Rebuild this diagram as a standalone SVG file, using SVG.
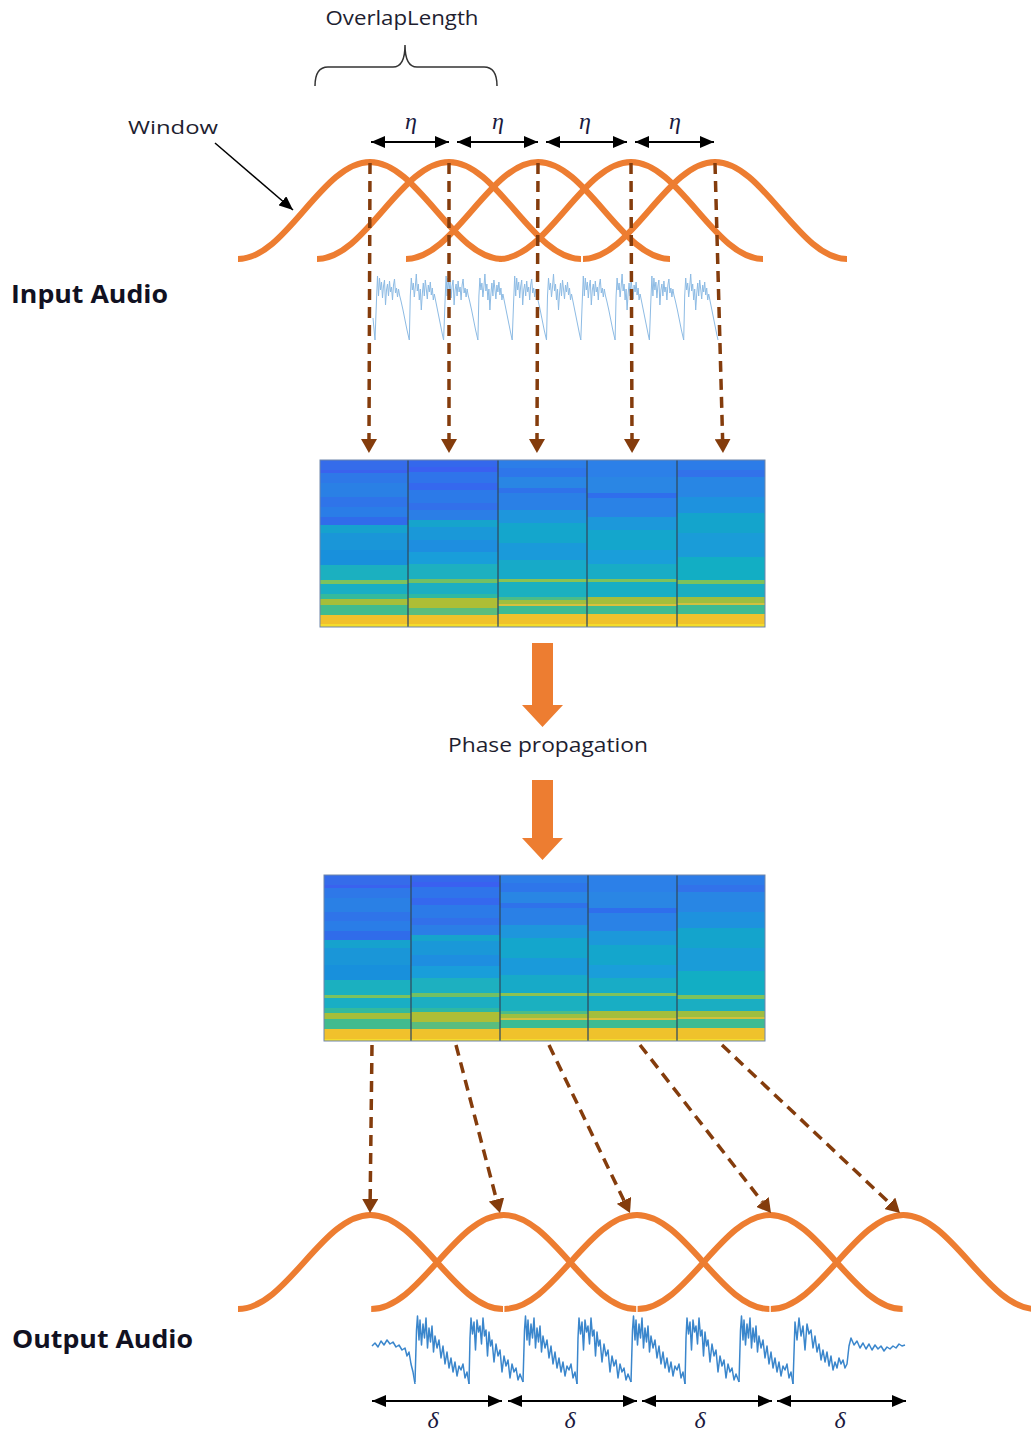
<svg xmlns="http://www.w3.org/2000/svg" width="1031" height="1431" viewBox="0 0 1031 1431">
<style>
.lbl{font-family:"Open Sans","Noto Sans","Liberation Sans",sans-serif;fill:#1e1e30}
.big{font-family:"Open Sans","Noto Sans","Liberation Sans",sans-serif;font-weight:bold;fill:#111122}
.greek{font-family:"Liberation Serif","DejaVu Serif",serif;font-style:italic;fill:#1a1a40}
.win{fill:none;stroke:#ED7D31;stroke-width:6}
.dash{fill:none;stroke:#843C0C;stroke-width:3.5;stroke-dasharray:11 7}
.dbl{fill:none;stroke:#000;stroke-width:2}
.div{stroke:#2F4A5E;stroke-width:1.5;stroke-opacity:0.85}
.orange{fill:#ED7D31}
.wavein{fill:none;stroke:#8DBBE4;stroke-width:1;stroke-linejoin:round}
.waveout{fill:none;stroke:#3A86CC;stroke-width:1.5;stroke-linejoin:round}
</style>
<defs>
<marker id="brownHead" markerUnits="userSpaceOnUse" markerWidth="14" markerHeight="16" refX="0" refY="8" orient="auto" viewBox="0 0 14 16"><path d="M0,0 L14,8 L0,16 Z" fill="#843C0C"/></marker>
<marker id="blk" markerUnits="userSpaceOnUse" markerWidth="14" markerHeight="12" refX="14" refY="6" orient="auto-start-reverse" viewBox="0 0 14 12"><path d="M0,0 L14,6 L0,12 Z" fill="#000"/></marker>
<marker id="blkS" markerUnits="userSpaceOnUse" markerWidth="14" markerHeight="12" refX="14" refY="6" orient="auto" viewBox="0 0 14 12"><path d="M0,0 L14,6 L0,12 Z" fill="#000"/></marker>
<linearGradient id="g1" x1="0" y1="0" x2="0" y2="1">
<stop offset="0" stop-color="#356CEA"/><stop offset=".06" stop-color="#356CEA"/>
<stop offset=".06" stop-color="#3A62EE"/><stop offset=".08" stop-color="#3A62EE"/>
<stop offset=".08" stop-color="#2E78E8"/><stop offset=".14" stop-color="#2E78E8"/>
<stop offset=".14" stop-color="#2A80E5"/><stop offset=".22" stop-color="#2A80E5"/>
<stop offset=".22" stop-color="#2F74E9"/><stop offset=".28" stop-color="#2F74E9"/>
<stop offset=".28" stop-color="#2A7DE7"/><stop offset=".34" stop-color="#2A7DE7"/>
<stop offset=".34" stop-color="#306CEA"/><stop offset=".39" stop-color="#306CEA"/>
<stop offset=".39" stop-color="#16A2CE"/><stop offset=".44" stop-color="#16A2CE"/>
<stop offset=".44" stop-color="#1A96D8"/><stop offset=".54" stop-color="#1A96D8"/>
<stop offset=".54" stop-color="#1890DC"/><stop offset=".63" stop-color="#1890DC"/>
<stop offset=".63" stop-color="#1BB0C0"/><stop offset=".72" stop-color="#1BB0C0"/>
<stop offset=".72" stop-color="#7DC25E"/><stop offset=".74" stop-color="#7DC25E"/>
<stop offset=".74" stop-color="#19AEC4"/><stop offset=".80" stop-color="#19AEC4"/>
<stop offset=".80" stop-color="#34BA9C"/><stop offset=".83" stop-color="#34BA9C"/>
<stop offset=".83" stop-color="#A6BE3A"/><stop offset=".87" stop-color="#A6BE3A"/>
<stop offset=".87" stop-color="#41BB8E"/><stop offset=".93" stop-color="#41BB8E"/>
<stop offset=".93" stop-color="#F1C12C"/><stop offset=".985" stop-color="#F1C12C"/>
<stop offset=".985" stop-color="#F4DC2C"/><stop offset="1" stop-color="#F4DC2C"/>
</linearGradient>
<linearGradient id="g2" x1="0" y1="0" x2="0" y2="1">
<stop offset="0" stop-color="#3468EC"/><stop offset=".04" stop-color="#3468EC"/>
<stop offset=".04" stop-color="#3A60F0"/><stop offset=".07" stop-color="#3A60F0"/>
<stop offset=".07" stop-color="#2F74EA"/><stop offset=".14" stop-color="#2F74EA"/>
<stop offset=".14" stop-color="#3568EE"/><stop offset=".18" stop-color="#3568EE"/>
<stop offset=".18" stop-color="#2C7AE8"/><stop offset=".26" stop-color="#2C7AE8"/>
<stop offset=".26" stop-color="#3270EA"/><stop offset=".30" stop-color="#3270EA"/>
<stop offset=".30" stop-color="#2B7EE6"/><stop offset=".36" stop-color="#2B7EE6"/>
<stop offset=".36" stop-color="#16A4CC"/><stop offset=".40" stop-color="#16A4CC"/>
<stop offset=".40" stop-color="#1A98D8"/><stop offset=".48" stop-color="#1A98D8"/>
<stop offset=".48" stop-color="#1E8EE0"/><stop offset=".55" stop-color="#1E8EE0"/>
<stop offset=".55" stop-color="#199EDA"/><stop offset=".62" stop-color="#199EDA"/>
<stop offset=".62" stop-color="#1DB0C0"/><stop offset=".71" stop-color="#1DB0C0"/>
<stop offset=".71" stop-color="#72C064"/><stop offset=".735" stop-color="#72C064"/>
<stop offset=".735" stop-color="#1CAEC2"/><stop offset=".80" stop-color="#1CAEC2"/>
<stop offset=".80" stop-color="#2FB8A2"/><stop offset=".825" stop-color="#2FB8A2"/>
<stop offset=".825" stop-color="#AEBE36"/><stop offset=".885" stop-color="#AEBE36"/>
<stop offset=".885" stop-color="#5ABD7E"/><stop offset=".93" stop-color="#5ABD7E"/>
<stop offset=".93" stop-color="#EFC22C"/><stop offset=".985" stop-color="#EFC22C"/>
<stop offset=".985" stop-color="#F4DC2C"/><stop offset="1" stop-color="#F4DC2C"/>
</linearGradient>
<linearGradient id="g3" x1="0" y1="0" x2="0" y2="1">
<stop offset="0" stop-color="#2C7EE8"/><stop offset=".05" stop-color="#2C7EE8"/>
<stop offset=".05" stop-color="#2E76EA"/><stop offset=".10" stop-color="#2E76EA"/>
<stop offset=".10" stop-color="#2986E4"/><stop offset=".17" stop-color="#2986E4"/>
<stop offset=".17" stop-color="#2F72EA"/><stop offset=".20" stop-color="#2F72EA"/>
<stop offset=".20" stop-color="#2A80E6"/><stop offset=".30" stop-color="#2A80E6"/>
<stop offset=".30" stop-color="#1E96DC"/><stop offset=".38" stop-color="#1E96DC"/>
<stop offset=".38" stop-color="#14A6CC"/><stop offset=".50" stop-color="#14A6CC"/>
<stop offset=".50" stop-color="#1A9ADA"/><stop offset=".60" stop-color="#1A9ADA"/>
<stop offset=".60" stop-color="#17AAC8"/><stop offset=".71" stop-color="#17AAC8"/>
<stop offset=".71" stop-color="#8CC252"/><stop offset=".73" stop-color="#8CC252"/>
<stop offset=".73" stop-color="#1BB0C0"/><stop offset=".82" stop-color="#1BB0C0"/>
<stop offset=".82" stop-color="#4CBC88"/><stop offset=".84" stop-color="#4CBC88"/>
<stop offset=".84" stop-color="#9EBF40"/><stop offset=".86" stop-color="#9EBF40"/>
<stop offset=".86" stop-color="#D6C03E"/><stop offset=".875" stop-color="#D6C03E"/>
<stop offset=".875" stop-color="#3CBB94"/><stop offset=".92" stop-color="#3CBB94"/>
<stop offset=".92" stop-color="#F0C22C"/><stop offset=".985" stop-color="#F0C22C"/>
<stop offset=".985" stop-color="#F4DC2C"/><stop offset="1" stop-color="#F4DC2C"/>
</linearGradient>
<linearGradient id="g4" x1="0" y1="0" x2="0" y2="1">
<stop offset="0" stop-color="#2C80E8"/><stop offset=".10" stop-color="#2C80E8"/>
<stop offset=".10" stop-color="#2A86E4"/><stop offset=".20" stop-color="#2A86E4"/>
<stop offset=".20" stop-color="#2F6EEC"/><stop offset=".23" stop-color="#2F6EEC"/>
<stop offset=".23" stop-color="#2A82E6"/><stop offset=".34" stop-color="#2A82E6"/>
<stop offset=".34" stop-color="#1C98DA"/><stop offset=".42" stop-color="#1C98DA"/>
<stop offset=".42" stop-color="#14A6CC"/><stop offset=".54" stop-color="#14A6CC"/>
<stop offset=".54" stop-color="#1A9EDA"/><stop offset=".62" stop-color="#1A9EDA"/>
<stop offset=".62" stop-color="#18ACC6"/><stop offset=".71" stop-color="#18ACC6"/>
<stop offset=".71" stop-color="#7EC25C"/><stop offset=".73" stop-color="#7EC25C"/>
<stop offset=".73" stop-color="#18AEC4"/><stop offset=".82" stop-color="#18AEC4"/>
<stop offset=".82" stop-color="#A4BE3C"/><stop offset=".86" stop-color="#A4BE3C"/>
<stop offset=".86" stop-color="#DAC03C"/><stop offset=".875" stop-color="#DAC03C"/>
<stop offset=".875" stop-color="#3EBB92"/><stop offset=".92" stop-color="#3EBB92"/>
<stop offset=".92" stop-color="#EFC22C"/><stop offset=".985" stop-color="#EFC22C"/>
<stop offset=".985" stop-color="#F4DC2C"/><stop offset="1" stop-color="#F4DC2C"/>
</linearGradient>
<linearGradient id="g5" x1="0" y1="0" x2="0" y2="1">
<stop offset="0" stop-color="#2C7CE8"/><stop offset=".06" stop-color="#2C7CE8"/>
<stop offset=".06" stop-color="#3272EA"/><stop offset=".10" stop-color="#3272EA"/>
<stop offset=".10" stop-color="#2886E4"/><stop offset=".22" stop-color="#2886E4"/>
<stop offset=".22" stop-color="#1E92DE"/><stop offset=".32" stop-color="#1E92DE"/>
<stop offset=".32" stop-color="#14A4CC"/><stop offset=".44" stop-color="#14A4CC"/>
<stop offset=".44" stop-color="#1A9CD8"/><stop offset=".58" stop-color="#1A9CD8"/>
<stop offset=".58" stop-color="#12AEC4"/><stop offset=".72" stop-color="#12AEC4"/>
<stop offset=".72" stop-color="#7CC25C"/><stop offset=".745" stop-color="#7CC25C"/>
<stop offset=".745" stop-color="#1AAEC2"/><stop offset=".82" stop-color="#1AAEC2"/>
<stop offset=".82" stop-color="#9EBE40"/><stop offset=".855" stop-color="#9EBE40"/>
<stop offset=".855" stop-color="#D2C03E"/><stop offset=".87" stop-color="#D2C03E"/>
<stop offset=".87" stop-color="#3EBB92"/><stop offset=".92" stop-color="#3EBB92"/>
<stop offset=".92" stop-color="#EFC22C"/><stop offset=".985" stop-color="#EFC22C"/>
<stop offset=".985" stop-color="#F4DC2C"/><stop offset="1" stop-color="#F4DC2C"/>
</linearGradient>
<path id="inA" class="wavein" d="M0,340 L1.5,300 L2.5,276 L3.5,296 L4.5,278 L5.5,290 L6.5,282 L7.5,298 L8.5,286 L9.5,280 L10.5,305 L11.5,290 L12.5,284 L13.5,296 L14.5,281 L15.5,292 L16.5,287 L17.5,300 L18.5,285 L19.5,279 L20.5,293 L21.5,288 L22.5,297 L23.5,289 L24.5,295 L26,301 L28,310 L30,320 L32,330 L34.3,340"/>
<path id="inB" class="wavein" d="M0,340 L1,296 L2,278 L3,290 L4,283 L5,297 L6,287 L7,274 L8,291 L9,284 L10,300 L11,289 L12,310 L13,294 L14,283 L15,296 L16,280 L17,289 L18,299 L19,285 L20,292 L21,282 L22,295 L23,288 L24,300 L25,294 L27,304 L29,314 L31,324 L33,334 L34.3,340"/>
<path id="outP" class="waveout" d="M0,1382 L1.5,1330 L2.5,1316 L4,1340 L5,1320 L6.5,1345 L8,1324 L9.5,1338 L11,1318 L12.5,1348 L14,1328 L15.5,1342 L17,1326 L18.5,1352 L20,1336 L22,1348 L24,1340 L26,1358 L28,1346 L30,1364 L32,1352 L34,1368 L36,1358 L38,1372 L40,1362 L42,1376 L44,1366 L46,1370 L48,1364 L50,1378 L52,1372 L54,1384"/>
<path id="outQ" class="waveout" d="M0,1384 L1,1338 L2,1318 L3.5,1334 L5,1322 L6.5,1350 L8,1320 L9.5,1332 L11,1326 L12.5,1344 L14,1318 L15.5,1336 L17,1330 L18.5,1356 L20,1332 L21.5,1346 L23,1340 L25,1362 L27,1344 L29,1356 L31,1350 L33,1372 L35,1356 L37,1366 L39,1360 L41,1378 L43,1364 L45,1372 L47,1368 L49,1380 L51,1374 L54,1382"/>
</defs>

<rect width="1031" height="1431" fill="#ffffff"/>

<g id="overlap-length">
<text class="lbl" x="402" y="25" font-size="20" text-anchor="middle" textLength="153" lengthAdjust="spacingAndGlyphs">OverlapLength</text>
<path d="M315,86 Q315,67 328,67 L393,67 Q405,67 405,45 Q405,67 417,67 L484,67 Q497,67 497,86" fill="none" stroke="#333" stroke-width="1.5"/>
</g>

<g id="window-label">
<text class="lbl" x="173" y="134" font-size="19" text-anchor="middle" textLength="90" lengthAdjust="spacingAndGlyphs">Window</text>
</g>

<g id="input-windows">
<path class="win" d="M238,259 C286,259 322,162 370,162 C418,162 454,259 502,259"/>
<path class="win" d="M317,259 C365,259 401,162 449,162 C497,162 533,259 581,259"/>
<path class="win" d="M406,259 C454,259 490,162 538,162 C586,162 622,259 670,259"/>
<path class="win" d="M499,259 C547,259 583,162 631,162 C679,162 715,259 763,259"/>
<path class="win" d="M583,259 C631,259 667,162 715,162 C763,162 799,259 847,259"/>
</g>

<g id="input-audio">
<text class="big" x="11" y="303" font-size="25" textLength="157" lengthAdjust="spacingAndGlyphs">Input Audio</text>
<path class="wavein" d="M373,318 L375,340"/>
<use href="#inA" x="375"/>
<use href="#inB" x="409.3"/>
<use href="#inA" x="443.6"/>
<use href="#inB" x="477.9"/>
<use href="#inA" x="512.2"/>
<use href="#inB" x="546.5"/>
<use href="#inA" x="580.8"/>
<use href="#inB" x="615.1"/>
<use href="#inA" x="649.4"/>
<use href="#inB" x="683.7"/>
</g>

<g id="spectrogram-in">
<rect x="320" y="460" width="88" height="167" fill="url(#g1)"/>
<rect x="408" y="460" width="90" height="167" fill="url(#g2)"/>
<rect x="498" y="460" width="89" height="167" fill="url(#g3)"/>
<rect x="587" y="460" width="90" height="167" fill="url(#g4)"/>
<rect x="677" y="460" width="88" height="167" fill="url(#g5)"/>
<line class="div" x1="408" y1="460" x2="408" y2="627"/>
<line class="div" x1="498" y1="460" x2="498" y2="627"/>
<line class="div" x1="587" y1="460" x2="587" y2="627"/>
<line class="div" x1="677" y1="460" x2="677" y2="627"/>
<rect x="320" y="460" width="445" height="167" fill="none" stroke="#6F86AA" stroke-width="1"/>
</g>

<g id="phase-propagation">
<path class="orange" d="M532,643 L553,643 L553,705 L563,705 L542.5,727 L522,705 L532,705 Z"/>
<text class="lbl" x="548" y="752" font-size="20" text-anchor="middle" textLength="200" lengthAdjust="spacingAndGlyphs">Phase propagation</text>
<path class="orange" d="M532,780 L553,780 L553,838 L563,838 L542.5,860 L522,838 L532,838 Z"/>
</g>

<g id="spectrogram-out">
<rect x="324" y="875" width="87" height="166" fill="url(#g1)"/>
<rect x="411" y="875" width="89" height="166" fill="url(#g2)"/>
<rect x="500" y="875" width="88" height="166" fill="url(#g3)"/>
<rect x="588" y="875" width="89" height="166" fill="url(#g4)"/>
<rect x="677" y="875" width="88" height="166" fill="url(#g5)"/>
<line class="div" x1="411" y1="875" x2="411" y2="1041"/>
<line class="div" x1="500" y1="875" x2="500" y2="1041"/>
<line class="div" x1="588" y1="875" x2="588" y2="1041"/>
<line class="div" x1="677" y1="875" x2="677" y2="1041"/>
<rect x="324" y="875" width="441" height="166" fill="none" stroke="#6F86AA" stroke-width="1"/>
</g>

<g id="output-windows">
<path class="win" d="M238,1309 C286.3,1309 322.2,1215 370.5,1215 C418.8,1215 454.7,1309 503,1309"/>
<path class="win" d="M371.2,1309 C419.5,1309 455.4,1215 503.7,1215 C552,1215 587.9,1309 636.2,1309"/>
<path class="win" d="M504.4,1309 C552.7,1309 588.6,1215 636.9,1215 C685.2,1215 721.1,1309 769.4,1309"/>
<path class="win" d="M637.6,1309 C685.9,1309 721.8,1215 770.1,1215 C818.4,1215 854.3,1309 902.6,1309"/>
<path class="win" d="M770.8,1309 C819.1,1309 855,1215 903.3,1215 C951.6,1215 987.5,1309 1035.8,1309"/>
</g>

<g id="output-audio">
<text class="big" x="12" y="1348" font-size="25" textLength="181" lengthAdjust="spacingAndGlyphs">Output Audio</text>
<path class="waveout" d="M372,1346 L375,1343 L378,1347 L381,1341 L384,1345 L387,1340 L390,1344 L393,1342 L396,1347 L399,1345 L402,1350 L405,1348 L407,1356 L409,1352 L411,1364 L413,1372 L415,1384"/>
<use href="#outP" x="415"/>
<use href="#outQ" x="469"/>
<use href="#outP" x="523"/>
<use href="#outQ" x="577"/>
<use href="#outP" x="631"/>
<use href="#outQ" x="685"/>
<use href="#outP" x="739"/>
<path class="waveout" d="M793,1384 L795,1322 L797,1340 L799,1318 L801,1336 L803,1326 L805,1350 L807,1324 L809,1334 L811,1330 L813,1348 L815,1336 L817,1352 L819,1344 L821,1360 L823,1350 L825,1362 L827,1352 L829,1366 L831,1356 L833,1370 L835,1362 L837,1368 L839,1358 L841,1364 L843,1360 L845,1368 L847,1364 L849,1346 L851,1338 L854,1345 L857,1341 L860,1348 L863,1343 L866,1349 L869,1344 L872,1350 L875,1345 L878,1349 L881,1346 L884,1351 L887,1347 L890,1349 L893,1346 L896,1348 L899,1344 L902,1346 L905,1345"/>
</g>

<g id="connectors">
<line x1="215" y1="143" x2="293" y2="210" stroke="#000" stroke-width="1.5" marker-end="url(#blkS)"/>
<line class="dbl" x1="371" y1="142" x2="449" y2="142" marker-start="url(#blk)" marker-end="url(#blk)"/>
<line class="dbl" x1="457" y1="142" x2="538" y2="142" marker-start="url(#blk)" marker-end="url(#blk)"/>
<line class="dbl" x1="546" y1="142" x2="627" y2="142" marker-start="url(#blk)" marker-end="url(#blk)"/>
<line class="dbl" x1="635" y1="142" x2="714" y2="142" marker-start="url(#blk)" marker-end="url(#blk)"/>
<line class="dash" x1="370" y1="163" x2="369" y2="439" marker-end="url(#brownHead)"/>
<line class="dash" x1="449" y1="163" x2="449" y2="439" marker-end="url(#brownHead)"/>
<line class="dash" x1="538" y1="163" x2="537" y2="439" marker-end="url(#brownHead)"/>
<line class="dash" x1="631" y1="163" x2="632" y2="439" marker-end="url(#brownHead)"/>
<line class="dash" x1="715" y1="163" x2="722.6" y2="439" marker-end="url(#brownHead)"/>
<line class="dash" x1="372" y1="1045" x2="370.17" y2="1199" marker-end="url(#brownHead)"/>
<line class="dash" x1="456" y1="1045" x2="496.45" y2="1199.46" marker-end="url(#brownHead)"/>
<line class="dash" x1="549" y1="1045" x2="623.92" y2="1200.39" marker-end="url(#brownHead)"/>
<line class="dash" x1="640" y1="1045" x2="762.39" y2="1201.96" marker-end="url(#brownHead)"/>
<line class="dash" x1="722" y1="1045" x2="889.82" y2="1203.39" marker-end="url(#brownHead)"/>
<line class="dbl" x1="372" y1="1401" x2="502" y2="1401" marker-start="url(#blk)" marker-end="url(#blk)"/>
<line class="dbl" x1="508" y1="1401" x2="637" y2="1401" marker-start="url(#blk)" marker-end="url(#blk)"/>
<line class="dbl" x1="642" y1="1401" x2="772" y2="1401" marker-start="url(#blk)" marker-end="url(#blk)"/>
<line class="dbl" x1="777" y1="1401" x2="906" y2="1401" marker-start="url(#blk)" marker-end="url(#blk)"/>
</g>

<g id="labels-greek">
<text class="greek" x="411" y="129" font-size="24" text-anchor="middle">η</text>
<text class="greek" x="498" y="129" font-size="24" text-anchor="middle">η</text>
<text class="greek" x="585" y="129" font-size="24" text-anchor="middle">η</text>
<text class="greek" x="675" y="129" font-size="24" text-anchor="middle">η</text>
<text class="greek" x="433" y="1428" font-size="24" text-anchor="middle">δ</text>
<text class="greek" x="570" y="1428" font-size="24" text-anchor="middle">δ</text>
<text class="greek" x="700" y="1428" font-size="24" text-anchor="middle">δ</text>
<text class="greek" x="840" y="1428" font-size="24" text-anchor="middle">δ</text>
</g>
</svg>
